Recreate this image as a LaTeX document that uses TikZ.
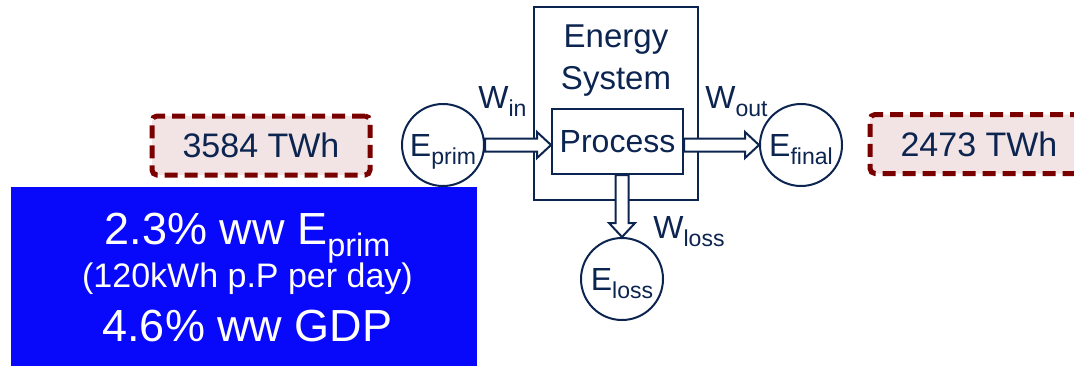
\documentclass[tikz,border=0pt]{standalone}
\usepackage{fontspec}
\setmainfont{Liberation Sans}
\usepackage{graphicx}
\usetikzlibrary{calc}
\definecolor{navyink}{RGB}{12,36,80}
\definecolor{darkmaroon}{RGB}{122,0,0}
\definecolor{blushfill}{RGB}{242,228,228}
\definecolor{vividblue}{RGB}{8,8,250}
\newcommand{\lowsub}[1]{\raisebox{-0.27em}[0pt][0pt]{\scalebox{0.72}{#1}}}
% hollow block arrows between two points
\newcommand{\hflow}[2]{%
  \filldraw[flow] ($(#1)+(0,6.5)$) -- ($(#2)+(-14,6.5)$) -- ($(#2)+(-14,13)$) -- (#2)
    -- ($(#2)+(-14,-13)$) -- ($(#2)+(-14,-6.5)$) -- ($(#1)+(0,-6.5)$) -- cycle;}
\newcommand{\vflow}[2]{%
  \filldraw[flow] ($(#1)+(-6.5,0)$) -- ($(#2)+(-6.5,14)$) -- ($(#2)+(-13,14)$) -- (#2)
    -- ($(#2)+(13,14)$) -- ($(#2)+(6.5,14)$) -- ($(#1)+(6.5,0)$) -- cycle;}

\begin{document}
\begin{tikzpicture}[x=0.5pt, y=0.5pt,
  every node/.style={text=navyink},
  sysbox/.style={rectangle, draw=navyink, line width=1pt, minimum width=82pt, minimum height=96.5pt, inner sep=0pt},
  procbox/.style={rectangle, draw=navyink, fill=white, line width=1pt, minimum width=65.5pt, minimum height=32.5pt, inner sep=0pt, font=\fontsize{16}{19}\selectfont},
  energy/.style={circle, draw=navyink, line width=1pt, minimum size=41pt, inner sep=0pt, font=\fontsize{16}{19}\selectfont},
  twh/.style={rectangle, draw=darkmaroon, fill=blushfill, line width=2.5pt, dash pattern=on 6.5pt off 3.5pt, rounded corners=2.5pt, minimum width=109pt, minimum height=29.5pt, inner sep=0pt, font=\fontsize{17}{20}\selectfont},
  flowlbl/.style={anchor=base west, inner sep=0pt, font=\fontsize{16}{19}\selectfont},
  flow/.style={draw=navyink, fill=white, line width=1pt, line join=miter},
  sharebox/.style={rectangle, fill=vividblue, minimum width=233pt, minimum height=94pt, inner sep=0pt},
  sharelbl/.style={anchor=base, inner sep=0pt, text=white}
]
\useasboundingbox (0,0) rectangle (1074,365);

% energy system and process
\node[sysbox] (sys) at (616,261.5) {};
\node[anchor=north, align=center, inner sep=0pt, font=\fontsize{16.5}{21}\selectfont] (systitle) at ($(sys.north)+(0,-18)$) {Energy\\System};
\node[procbox] (proc) at (617.5,223.5) {Process};

% energy pools
\node[energy] (prim) at (443,220) {E\lowsub{prim}};
\node[energy] (final) at (801,220) {E\lowsub{final}};
\node[energy] (loss) at (622,86) {E\lowsub{loss}};

% flows
\coordinate (inTip) at (proc.west |- prim.east);
\coordinate (outBase) at (proc.east |- final.west);
\coordinate (lossBase) at (loss.north |- proc.south);
\hflow{prim.east}{inTip}
\hflow{outBase}{final.west}
\vflow{lossBase}{loss.north}

\node[flowlbl] (win) at (478,257) {W\lowsub{in}};
\node[flowlbl] (wout) at (705,257) {W\lowsub{out}};
\node[flowlbl] (wloss) at (653,127) {W\lowsub{loss}};

% amounts
\node[twh] (inTWh) at (261,219.5) {3584 TWh};
\node[twh] (outTWh) at (979,221) {2473 TWh};

% share box
\node[sharebox] (share) at (244,84) {};
\node[sharelbl, font=\fontsize{22.5}{27}\selectfont] (shPrim) at ($(share.north)+(3.5,-58)$) {2.3\% ww E\lowsub{prim}};
\node[sharelbl, font=\fontsize{17}{20}\selectfont] (shDay) at ($(share.north)+(3.5,-101)$) {(120kWh p.P per day)};
\node[sharelbl, font=\fontsize{22.5}{27}\selectfont] (shGDP) at ($(share.north)+(3.5,-155)$) {4.6\% ww GDP};
\end{tikzpicture}
\end{document}
